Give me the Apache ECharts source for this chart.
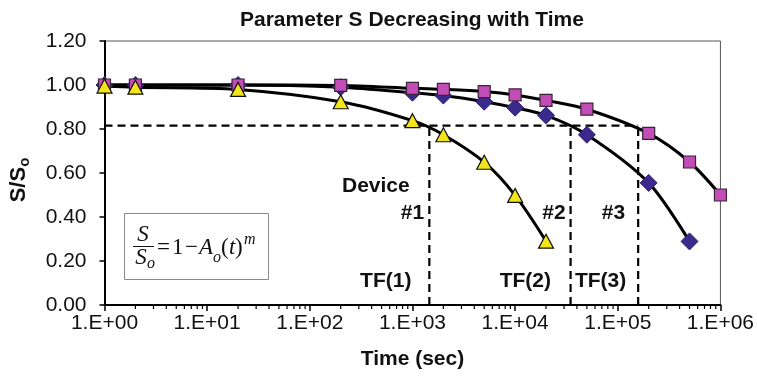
<!DOCTYPE html>
<html>
<head>
<meta charset="utf-8">
<script src="https://cdn.jsdelivr.net/npm/echarts@6/dist/echarts.min.js"></script>
<style>
  html, body { margin: 0; padding: 0; background: #fff; }
  #chart { width: 757px; height: 377px; }
</style>
</head>
<body>
<div id="chart"></div>
<script>
// Time points (seconds) and normalised parameter S/So for three devices
const timeDiamond = [1, 2, 20, 200, 1000, 2000, 5000, 10000, 20000, 50000, 200000, 500000];
const valDiamond  = [1.00, 1.00, 1.00, 0.99, 0.965, 0.952, 0.924, 0.897, 0.862, 0.774, 0.555, 0.289];

const timeSquare = [1, 2, 20, 200, 1000, 2000, 5000, 10000, 20000, 50000, 200000, 500000, 1000000];
const valSquare  = [1.00, 1.00, 1.00, 0.998, 0.985, 0.98, 0.97, 0.955, 0.93, 0.89, 0.78, 0.65, 0.50];

const timeTriangle = [1, 2, 20, 200, 1000, 2000, 5000, 10000, 20000];
const valTriangle  = [0.995, 0.99, 0.98, 0.924, 0.838, 0.774, 0.649, 0.498, 0.29];

// Failure criterion and the failure times where each curve crosses it
const failLevel = 0.815;
const failTimes = [1460, 34700, 158000];

// Axis settings
const yTicks = [0, 0.2, 0.4, 0.6, 0.8, 1.0, 1.2];
const xMin = 1, xMax = 1000000;
const minorTickValues = [];
for (let d = 1; d < xMax; d *= 10) {
  for (let k = 2; k <= 9; k++) minorTickValues.push(d * k);
}

// Annotation texts placed in data space
const noteTexts = ['Device', '#1', '#2', '#3', 'TF(1)', 'TF(2)', 'TF(3)'];
const noteTimes = [440, 1000, 23900, 90800, 549, 12580, 68000];
const noteVals  = [0.541, 0.418, 0.418, 0.418, 0.109, 0.109, 0.109];

const pairs = (xs, ys) => xs.map((x, i) => [x, ys[i]]);

const chart = echarts.init(document.getElementById('chart'), null, { renderer: 'canvas' });

const sans = 'Liberation Sans, Arial, sans-serif';
const serif = 'Liberation Serif, Times New Roman, serif';
const ink = '#111';

const lineBase = {
  type: 'line',
  smooth: 0.3,
  showAllSymbol: true,
  lineStyle: { color: '#000', width: 3 },
  emphasis: { disabled: true },
  animation: false
};

const dashStyle = { color: '#000', width: 2.2, type: [8, 5] };

const series = [
  Object.assign({}, lineBase, {
    name: 'diamond',
    data: pairs(timeDiamond, valDiamond),
    symbol: 'diamond',
    symbolSize: 17,
    itemStyle: { color: '#3B2A8C', borderColor: '#2E2170', borderWidth: 1 }
  }),
  Object.assign({}, lineBase, {
    name: 'square',
    data: pairs(timeSquare, valSquare),
    symbol: 'rect',
    symbolSize: 12,
    itemStyle: { color: '#C24DB6', borderColor: '#3A2338', borderWidth: 1.2 }
  }),
  Object.assign({}, lineBase, {
    name: 'triangle',
    data: pairs(timeTriangle, valTriangle),
    symbol: 'triangle',
    symbolSize: [15, 14],
    itemStyle: { color: '#F3E51C', borderColor: '#111', borderWidth: 1.2 }
  }),
  // Horizontal failure level
  {
    type: 'line',
    data: [[xMin, failLevel], [failTimes[failTimes.length - 1], failLevel]],
    symbol: 'none',
    lineStyle: dashStyle,
    silent: true,
    animation: false,
    z: 1
  }
];

// Vertical lines at each failure time
failTimes.forEach(t => {
  series.push({
    type: 'line',
    data: [[t, 0], [t, failLevel]],
    symbol: 'none',
    lineStyle: dashStyle,
    silent: true,
    animation: false,
    z: 1
  });
});

// Minor ticks of the logarithmic time axis
series.push({
  type: 'custom',
  clip: false,
  silent: true,
  animation: false,
  data: minorTickValues.map(v => [v, 0]),
  renderItem: (params, api) => {
    const p = api.coord([api.value(0), 0]);
    return {
      type: 'line',
      shape: { x1: p[0], y1: p[1], x2: p[0], y2: p[1] + 4 },
      style: { stroke: '#000', lineWidth: 1.2 }
    };
  }
});

// Text annotations
series.push({
  type: 'scatter',
  symbolSize: 0,
  silent: true,
  animation: false,
  itemStyle: { opacity: 1 },
  data: noteTexts.map((s, i) => ({ name: s, value: [noteTimes[i], noteVals[i]] })),
  label: {
    show: true,
    position: 'inside',
    formatter: p => p.name,
    fontFamily: sans,
    fontWeight: 'bold',
    fontSize: 21,
    color: ink,
    opacity: 1
  }
});

const eqY = 248;
const eqText = (x, y, text, font) => ({
  type: 'text', x: x, y: y, z: 11,
  style: { text: text, font: font, fill: '#111', align: 'left', verticalAlign: 'middle' }
});

chart.setOption({
  animation: false,
  backgroundColor: '#fff',
  title: {
    text: 'Parameter S Decreasing with Time',
    left: 235,
    top: 5,
    textStyle: { fontFamily: sans, fontWeight: 'bold', fontSize: 21, color: ink }
  },
  grid: {
    left: 100, right: 35, top: 41, bottom: 72,
    show: true,
    borderColor: '#555',
    borderWidth: 1
  },
  xAxis: {
    type: 'log',
    logBase: 10,
    min: xMin,
    max: xMax,
    name: 'Time (sec)',
    nameLocation: 'middle',
    nameGap: 44,
    nameTextStyle: { fontFamily: sans, fontWeight: 'bold', fontSize: 21, color: ink },
    axisLine: { show: true, lineStyle: { color: '#000', width: 2 } },
    axisTick: { show: true, length: 6, lineStyle: { color: '#000', width: 1.5 } },
    splitLine: { show: false },
    axisLabel: {
      fontFamily: sans,
      fontSize: 21,
      color: ink,
      margin: 8,
      formatter: v => {
        const e = Math.round(Math.log10(v));
        return '1.E+' + (e < 10 ? '0' : '') + e;
      }
    }
  },
  yAxis: {
    type: 'value',
    min: yTicks[0],
    max: yTicks[yTicks.length - 1],
    interval: 0.2,
    name: '{b|S/S}{o|o}',
    nameLocation: 'middle',
    nameGap: 72,
    nameTextStyle: {
      padding: [0, 14, 0, 0],
      rich: {
        b: { fontFamily: sans, fontWeight: 'bold', fontSize: 22, color: ink, lineHeight: 27, verticalAlign: 'middle' },
        o: { fontFamily: sans, fontWeight: 'bold', fontSize: 15, color: ink, lineHeight: 27, verticalAlign: 'bottom' }
      }
    },
    axisLine: { show: true, lineStyle: { color: '#000', width: 2 } },
    axisTick: { show: true, length: 5, lineStyle: { color: '#000', width: 1.5 } },
    splitLine: { show: false },
    axisLabel: {
      fontFamily: sans,
      fontSize: 21,
      color: ink,
      margin: 18,
      formatter: v => v.toFixed(2)
    }
  },
  graphic: [
    // Model equation box: S/So = 1 - Ao(t)^m
    { type: 'rect', shape: { x: 124.5, y: 213.5, width: 144, height: 66 }, style: { fill: '#fff', stroke: '#888', lineWidth: 1 }, z: 10 },
    { type: 'text', x: 143, y: 235, z: 11, style: { text: 'S', font: 'italic 23px ' + serif, fill: '#111', align: 'center', verticalAlign: 'middle' } },
    { type: 'line', z: 11, shape: { x1: 133, y1: 246.5, x2: 154, y2: 246.5 }, style: { stroke: '#111', lineWidth: 1 } },
    { type: 'text', x: 141, y: 258, z: 11, style: { text: 'S', font: 'italic 23px ' + serif, fill: '#111', align: 'center', verticalAlign: 'middle' } },
    eqText(147, 264, 'o', 'italic 16px ' + serif),
    eqText(157, eqY, '=', '23px ' + serif),
    eqText(172, eqY, '1', '23px ' + serif),
    eqText(185, eqY, '\u2212', '23px ' + serif),
    eqText(199, eqY, 'A', 'italic 23px ' + serif),
    eqText(213, 258, 'o', 'italic 16px ' + serif),
    eqText(221, eqY, '(', '23px ' + serif),
    eqText(229, eqY, 't', 'italic 23px ' + serif),
    eqText(235, eqY, ')', '23px ' + serif),
    eqText(244, 240, 'm', 'italic 16px ' + serif)
  ],
  series: series
});
</script>
</body>
</html>
